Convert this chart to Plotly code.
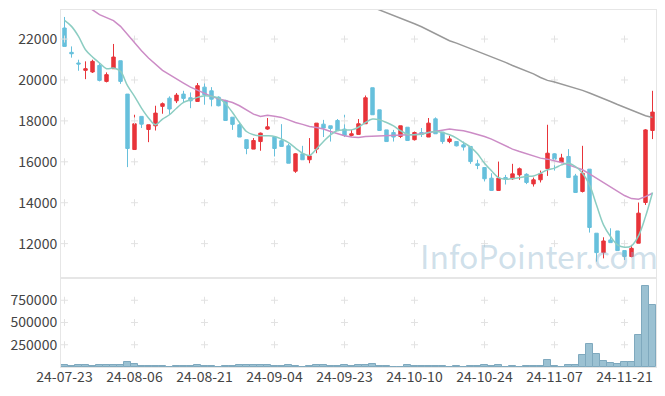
import plotly.graph_objects as go

dates = [
    "24-07-23", "24-07-24", "24-07-25", "24-07-26", "24-07-29", "24-07-30", "24-07-31",
    "24-08-01", "24-08-02", "24-08-05", "24-08-06", "24-08-07", "24-08-08", "24-08-09",
    "24-08-12", "24-08-13", "24-08-14", "24-08-16", "24-08-19", "24-08-20", "24-08-21",
    "24-08-22", "24-08-23", "24-08-26", "24-08-27", "24-08-28", "24-08-29", "24-08-30",
    "24-09-02", "24-09-03", "24-09-04", "24-09-05", "24-09-06", "24-09-09", "24-09-10",
    "24-09-11", "24-09-12", "24-09-13", "24-09-19", "24-09-20", "24-09-23", "24-09-24",
    "24-09-25", "24-09-26", "24-09-27", "24-09-30", "24-10-02", "24-10-04", "24-10-07",
    "24-10-08", "24-10-10", "24-10-11", "24-10-14", "24-10-15", "24-10-16", "24-10-17",
    "24-10-18", "24-10-21", "24-10-22", "24-10-23", "24-10-24", "24-10-25", "24-10-28",
    "24-10-29", "24-10-30", "24-10-31", "24-11-01", "24-11-04", "24-11-05", "24-11-06",
    "24-11-07", "24-11-08", "24-11-11", "24-11-12", "24-11-13", "24-11-14", "24-11-15",
    "24-11-18", "24-11-19", "24-11-20", "24-11-21", "24-11-22", "24-11-25", "24-11-26",
    "24-11-27",
]

opens = [
    22540, 21350, 20830, 20470, 20390, 20710, 19930, 20550, 20940, 19310,
    16600, 18220, 17580, 17760, 18710, 19110, 18980, 19310, 19130, 18950,
    19650, 19470, 19160, 19000, 18180, 17810, 17080, 16620, 16990, 17600,
    17210, 17030, 16780, 15540, 16390, 16100, 16620, 17840, 17760, 18020,
    17600, 17290, 17340, 17860, 19620, 18540, 17560, 17430, 17240, 17690,
    17080, 17430, 17210, 18100, 17450, 16990, 16990, 16830, 16750, 15900,
    15720, 15200, 14600, 15230, 15170, 15360, 15390, 14920, 15120, 15670,
    16390, 15980, 16260, 15310, 14550, 15640, 12510, 11560, 12180, 12620,
    11660, 11370, 12020, 14010, 17530,
]
highs = [
    23080, 21640, 20990, 20910, 20990, 20830, 20370, 21760, 20940, 19310,
    18300, 18220, 17810, 18740, 18900, 19200, 19360, 19470, 19390, 19850,
    19850, 19650, 19200, 19030, 18180, 17890, 17080, 17160, 17430, 18140,
    17210, 17840, 16880, 16420, 16780, 17160, 17890, 18050, 17760, 18090,
    18300, 17560, 18090, 19240, 19620, 18540, 17560, 17560, 17760, 17690,
    17480, 17650, 18140, 18170, 17450, 17270, 16990, 16990, 16750, 16100,
    15720, 15440, 16010, 15360, 15900, 15720, 15440, 15230, 15570, 17810,
    16420, 16390, 16620, 15410, 16780, 15640, 12510, 12310, 12750, 12620,
    11660, 11940, 14010, 17600, 19470,
]
lows = [
    21640, 21090, 20450, 20040, 20340, 19930, 19880, 20550, 19810, 15740,
    16600, 17650, 16960, 17530, 18350, 18300, 18870, 18870, 18620, 18950,
    18790, 18710, 18710, 18020, 17560, 17210, 16370, 16620, 16540, 17560,
    16260, 16750, 15930, 15460, 16100, 15930, 16420, 17210, 16990, 17520,
    17210, 17240, 17340, 17860, 18300, 17530, 16990, 16990, 17160, 17040,
    17040, 17210, 17210, 17370, 16880, 16910, 16750, 16550, 15900, 15640,
    15040, 14600, 14600, 14890, 15120, 15120, 14910, 14790, 14990, 15310,
    15570, 15930, 15230, 14500, 14500, 12540, 11120, 11280, 12050, 11660,
    11200, 11330, 12020, 13890, 17110,
]
closes = [
    21640, 21280, 20780, 20550, 20910, 19980, 20260, 21120, 19930, 16650,
    17860, 17840, 17810, 18380, 18840, 18580, 19260, 19100, 18980, 19720,
    19280, 19060, 18740, 18020, 17830, 17210, 16650, 17040, 17400, 17710,
    16650, 16750, 15930, 16390, 16100, 16290, 17890, 17650, 17630, 17520,
    17290, 17370, 17860, 19130, 18300, 17530, 16990, 17210, 17760, 17040,
    17430, 17340, 17890, 17370, 16990, 17120, 16780, 16720, 16010, 15820,
    15170, 14600, 15200, 15150, 15410, 15660, 14990, 15120, 15410, 16420,
    16130, 16190, 15230, 14500, 15440, 12790, 11560, 12130, 12050, 11660,
    11370, 11770, 13490, 17560, 18430,
]

ma5 = [
    22910, 22620, 22130, 21480, 21120, 20830, 20550, 20580, 20420, 19720,
    19200, 18620, 18140, 17810, 18090, 18300, 18620, 18900, 19030, 19150,
    19230, 19200, 19110, 18840, 18410, 17920, 17480, 17320, 17270, 17270,
    17240, 17110, 16940, 16670, 16420, 16310, 16630, 16990, 17320, 17530,
    17560, 17560, 17690, 17920, 18090, 18050, 17920, 17760, 17520, 17350,
    17320, 17340, 17430, 17480, 17430, 17320, 17160, 16940, 16720, 16390,
    15930, 15560, 15230, 15150, 15180, 15230, 15280, 15310, 15440, 15610,
    15690, 15850, 15930, 15770, 15440, 14870, 13890, 12920, 12350, 11940,
    11820, 11890, 12380, 13320, 14500,
]
ma20 = [
    24100, 23950, 23780, 23600, 23430, 23190, 23030, 22900, 22620, 22210,
    21800, 21430, 21070, 20780, 20470, 20260, 20040, 19850, 19650, 19490,
    19360, 19200, 19080, 18980, 18900, 18740, 18540, 18330, 18220, 18280,
    18230, 18170, 18050, 17920, 17830, 17730, 17680, 17600, 17480, 17370,
    17270, 17210, 17190, 17240, 17250, 17270, 17290, 17290, 17300, 17320,
    17340, 17370, 17430, 17480, 17550, 17600, 17560, 17520, 17430, 17350,
    17240, 17110, 16940, 16750, 16620, 16500, 16390, 16290, 16180, 16130,
    16060, 15970, 15850, 15740, 15610, 15410, 15200, 14950, 14760, 14550,
    14350, 14200, 14170, 14300, 14460,
]
ma_long = [None] * 43 + [
    23690, 23560, 23430, 23290, 23170, 23030, 22900, 22750, 22600, 22420,
    22250, 22080, 21920, 21800, 21670, 21540, 21400, 21270, 21140, 20990,
    20860, 20710, 20580, 20450, 20300, 20120, 19980, 19900, 19800, 19700,
    19600, 19490, 19360, 19230, 19080, 18950, 18800, 18660, 18510, 18380,
    18250, 18170,
]
volumes = [
    22000, 11000, 22000, 22000, 11000, 22000, 22000, 22000, 22000, 56000,
    34000, 11000, 11000, 11000, 11000, 0, 11000, 11000, 11000, 22000,
    11000, 11000, 0, 11000, 11000, 22000, 22000, 22000, 22000, 22000,
    11000, 11000, 22000, 11000, 0, 11000, 22000, 22000, 11000, 11000,
    22000, 11000, 22000, 22000, 34000, 11000, 11000, 0, 0, 22000,
    11000, 11000, 11000, 11000, 11000, 0, 11000, 0, 11000, 11000,
    22000, 11000, 22000, 0, 11000, 0, 11000, 11000, 11000, 78000,
    11000, 0, 22000, 22000, 135000, 259000, 146000, 67000, 45000, 34000,
    56000, 56000, 360000, 907000, 697000,
]

x_tick_labels = ["24-07-23", "24-08-06", "24-08-21", "24-09-04", "24-09-23",
                 "24-10-10", "24-10-24", "24-11-07", "24-11-21"]
price_ticks = [12000, 14000, 16000, 18000, 20000, 22000]
volume_ticks = [250000, 500000, 750000]

FONT = "Noto Sans CJK KR"
split = 89 / 357

fig = go.Figure()

# faint grid crosses at tick intersections
gx, gy = [], []
for t in x_tick_labels:
    for v in price_ticks:
        gx.append(t); gy.append(v)
fig.add_trace(go.Scatter(x=gx, y=gy, mode="markers", xaxis="x", yaxis="y",
                         marker=dict(symbol="cross-thin", size=5,
                                     line=dict(color="#e2e2e2", width=1)),
                         hoverinfo="skip", showlegend=False))
gx2, gy2 = [], []
for t in x_tick_labels:
    for v in volume_ticks:
        gx2.append(t); gy2.append(v)
fig.add_trace(go.Scatter(x=gx2, y=gy2, mode="markers", xaxis="x2", yaxis="y2",
                         marker=dict(symbol="cross-thin", size=5,
                                     line=dict(color="#e2e2e2", width=1)),
                         hoverinfo="skip", showlegend=False))

fig.add_trace(go.Candlestick(
    x=dates, open=opens, high=highs, low=lows, close=closes,
    xaxis="x", yaxis="y",
    increasing=dict(line=dict(color="#e8343a", width=1), fillcolor="#e8343a"),
    decreasing=dict(line=dict(color="#67c0dc", width=1), fillcolor="#67c0dc"),
    showlegend=False))

fig.add_trace(go.Scatter(x=dates, y=ma_long, mode="lines", xaxis="x", yaxis="y",
                         line=dict(color="#999999", width=1.5), showlegend=False))
fig.add_trace(go.Scatter(x=dates, y=ma20, mode="lines", xaxis="x", yaxis="y",
                         line=dict(color="#cc8cc6", width=1.5), showlegend=False))
fig.add_trace(go.Scatter(x=dates, y=ma5, mode="lines", xaxis="x", yaxis="y",
                         line=dict(color="#8ccdc2", width=1.5, shape="spline"),
                         showlegend=False))

fig.add_trace(go.Bar(x=dates, y=volumes, xaxis="x2", yaxis="y2",
                     marker=dict(color="#9bc1d2", line=dict(color="#7fa9be", width=1)),
                     showlegend=False))

axis_line = "#e6e6e6"
fig.update_layout(
    width=665, height=396,
    margin=dict(l=61, r=9, t=10, b=29, autoexpand=False),
    paper_bgcolor="white", plot_bgcolor="white",
    bargap=0,
    showlegend=False,
    font=dict(family=FONT, size=14, color="#444444"),
    xaxis=dict(domain=[0, 1], anchor="y", type="category",
               categoryorder="array", categoryarray=dates,
               range=[-0.5, 84.5], autorange=False, showticklabels=False, ticks="",
               showgrid=False, zeroline=False, showline=True, mirror=True,
               linecolor=axis_line, linewidth=1, automargin=False,
               rangeslider=dict(visible=False)),
    yaxis=dict(domain=[split, 1], anchor="x", range=[10320, 23420], autorange=False,
               tickvals=price_ticks, ticktext=[str(v) for v in price_ticks],
               ticks="", showgrid=False, zeroline=False, showline=True,
               mirror=True, linecolor=axis_line, linewidth=1, automargin=False,
               tickfont=dict(family=FONT, size=14, color="#444444")),
    xaxis2=dict(domain=[0, 1], anchor="y2", type="category",
                categoryorder="array", categoryarray=dates,
                range=[-0.5, 84.5], autorange=False,
                tickvals=x_tick_labels, ticktext=x_tick_labels, ticks="",
                showgrid=False, zeroline=False, showline=True, mirror=True,
                linecolor=axis_line, linewidth=1, tickangle=0, automargin=False,
                ticklabelstandoff=-3,
                tickfont=dict(family=FONT, size=14, color="#444444")),
    yaxis2=dict(domain=[0, split], anchor="x2", range=[0, 1000000], autorange=False,
                tickvals=volume_ticks, ticktext=[str(v) for v in volume_ticks],
                ticks="", showgrid=False, zeroline=False, showline=True,
                mirror=True, linecolor=axis_line, linewidth=1, automargin=False,
                tickfont=dict(family=FONT, size=14, color="#444444")),
    annotations=[dict(text="InfoPointer.com", xref="paper", yref="paper",
                      x=0.803, y=0.314, xanchor="center", yanchor="middle",
                      showarrow=False,
                      font=dict(family=FONT, size=32,
                                color="rgba(140,180,205,0.42)"))],
)

fig.write_html("out.html", config={"displayModeBar": False},
               post_script="document.body.style.margin='0';document.body.style.padding='0';")
